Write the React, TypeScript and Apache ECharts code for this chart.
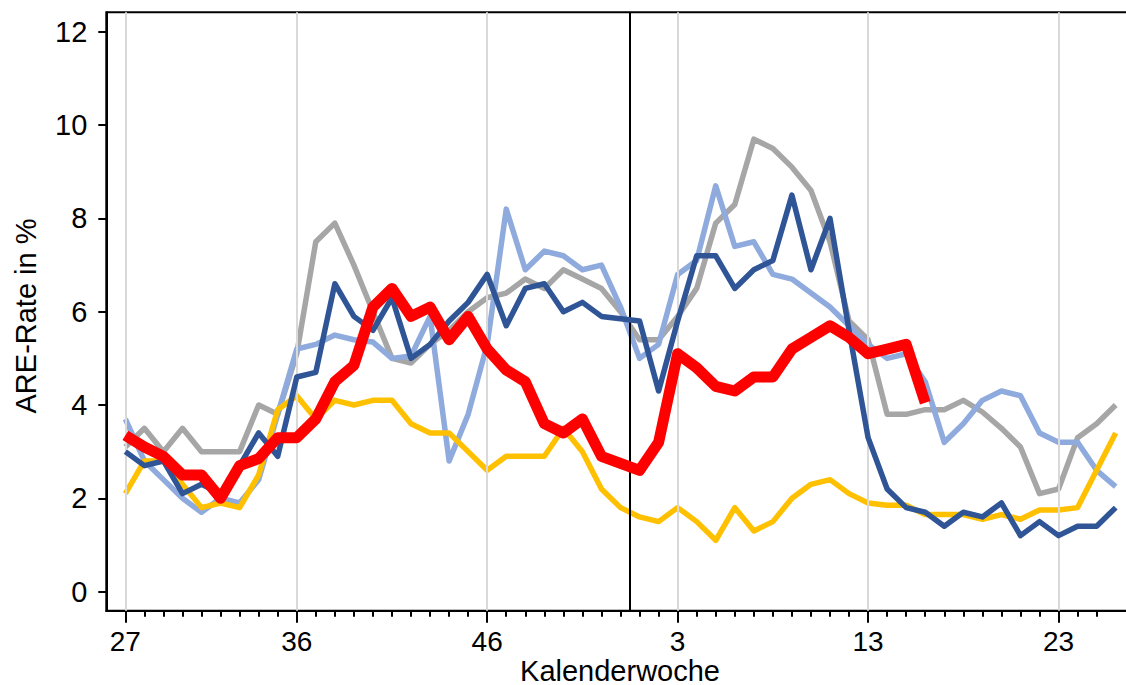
import React, { useEffect, useRef } from "react";
import * as echarts from "echarts";

// Calendar weeks (season 27/2020 .. 26/2021, 53-week year)
const weeks: number[] = [
  27, 28, 29, 30, 31, 32, 33, 34, 35, 36, 37, 38, 39, 40, 41, 42, 43, 44, 45, 46,
  47, 48, 49, 50, 51, 52, 53, 1, 2, 3, 4, 5, 6, 7, 8, 9, 10, 11, 12, 13, 14, 15,
  16, 17, 18, 19, 20, 21, 22, 23, 24, 25, 26,
];
const labelWeekIdx: number[] = [0, 9, 19, 29, 39, 49];
const yTicks: number[] = [0, 2, 4, 6, 8, 10, 12];
const yearBreakIdx = 26.5;

const grayVals: number[] = [
  3.1, 3.5, 3.0, 3.5, 3.0, 3.0, 3.0, 4.0, 3.8, 5.1, 7.5, 7.9, 7.0, 6.0, 5.0, 4.9,
  5.3, 5.6, 6.0, 6.3, 6.4, 6.7, 6.5, 6.9, 6.7, 6.5, 6.0, 5.4, 5.4, 5.9, 6.5, 7.9,
  8.3, 9.7, 9.5, 9.1, 8.6, 7.5, 5.8, 5.4, 3.8, 3.8, 3.9, 3.9, 4.1, 3.85, 3.5, 3.1,
  2.1, 2.2, 3.3, 3.6, 4.0,
];
const lightBlueVals: number[] = [
  3.7, 2.8, 2.4, 2.0, 1.7, 2.0, 1.9, 2.4, 3.8, 5.2, 5.3, 5.5, 5.4, 5.35, 5.0, 5.05,
  5.9, 2.8, 3.8, 5.3, 8.2, 6.9, 7.3, 7.2, 6.9, 7.0, 6.1, 5.0, 5.3, 6.8, 7.1, 8.7,
  7.4, 7.5, 6.8, 6.7, 6.4, 6.1, 5.7, 5.3, 5.0, 5.1, 4.5, 3.2, 3.6, 4.1, 4.3, 4.2,
  3.4, 3.2, 3.2, 2.6, 2.25,
];
const darkBlueVals: number[] = [
  3.0, 2.7, 2.8, 2.1, 2.3, 2.1, 2.7, 3.4, 2.9, 4.6, 4.7, 6.6, 5.9, 5.6, 6.3, 5.0,
  5.3, 5.8, 6.2, 6.8, 5.7, 6.5, 6.6, 6.0, 6.2, 5.9, 5.85, 5.8, 4.3, 5.8, 7.2, 7.2,
  6.5, 6.9, 7.1, 8.5, 6.9, 8.0, 5.6, 3.3, 2.2, 1.8, 1.7, 1.4, 1.7, 1.6, 1.9, 1.2,
  1.5, 1.2, 1.4, 1.4, 1.8,
];
const yellowVals: number[] = [
  2.1, 2.8, 2.8, 2.3, 1.8, 1.9, 1.8, 2.5, 3.9, 4.2, 3.7, 4.1, 4.0, 4.1, 4.1, 3.6,
  3.4, 3.4, 3.0, 2.6, 2.9, 2.9, 2.9, 3.5, 3.0, 2.2, 1.8, 1.6, 1.5, 1.8, 1.5, 1.1,
  1.8, 1.3, 1.5, 2.0, 2.3, 2.4, 2.1, 1.9, 1.85, 1.85, 1.65, 1.65, 1.65, 1.55, 1.65,
  1.55, 1.75, 1.75, 1.8, 2.6, 3.4,
];
const redVals: number[] = [
  3.35, 3.1, 2.9, 2.5, 2.5, 2.0, 2.7, 2.85, 3.3, 3.3, 3.7, 4.5, 4.85, 6.1, 6.5, 5.9,
  6.1, 5.4, 5.9, 5.2, 4.75, 4.5, 3.6, 3.4, 3.7, 2.9, 2.75, 2.6, 3.2, 5.1, 4.8, 4.4,
  4.3, 4.6, 4.6, 5.2, 5.45, 5.7, 5.45, 5.1, 5.2, 5.3, 4.05,
];

const FONT = '"Liberation Sans", Arial, sans-serif';
const FS = 29;
const FS_TICK = 28;

export default function App() {
  const ref = useRef<HTMLDivElement>(null);
  useEffect(() => {
    if (!ref.current) return;
    const chart = echarts.init(ref.current, undefined, { renderer: "svg" });
    const xMin = -1;
    const xMax = 53;
    const pxPerWeek = 19.045;
    const toPairs = (vals: number[]) => vals.map((v, i) => [i, v]);
    const allTicks = weeks.slice(0, 52).map((_, i) => i);
    const mkLine = (name: string, vals: number[], color: string, width: number, z: number) => ({
      name,
      type: "line",
      xAxisIndex: 0,
      yAxisIndex: 0,
      data: toPairs(vals),
      showSymbol: false,
      symbol: "none",
      z,
      lineStyle: { color, width, join: "round", cap: "butt" },
      emphasis: { disabled: true },
    });
    chart.setOption({
      animation: false,
      grid: {
        left: 106.3,
        top: 12.3,
        width: (xMax - xMin) * pxPerWeek,
        height: 598.4,
        outerBoundsMode: "none",
        containLabel: false,
        show: true,
        borderColor: "#000",
        borderWidth: 2,
        backgroundColor: "transparent",
      },
      xAxis: [
        {
          type: "value",
          min: xMin,
          max: xMax,
          position: "bottom",
          axisLine: { show: true, onZero: false, lineStyle: { color: "#000", width: 2 } },
          axisTick: { show: true, customValues: allTicks, length: 6, lineStyle: { color: "#000", width: 2 } },
          axisLabel: { show: false },
          splitLine: { show: false },
        },
        {
          type: "value",
          min: xMin,
          max: xMax,
          position: "bottom",
          axisLine: { show: false, onZero: false },
          axisTick: { show: true, customValues: labelWeekIdx, length: 12, lineStyle: { color: "#000", width: 2 } },
          axisLabel: {
            show: true,
            customValues: labelWeekIdx,
            formatter: (v: number) => String(weeks[Math.round(v)]),
            fontSize: FS_TICK,
            fontFamily: FONT,
            color: "#000",
            margin: 17,
          },
          splitLine: { show: false },
        },
      ],
      yAxis: {
        type: "value",
        min: -0.41,
        max: 12.42,
        axisLine: { show: true, onZero: false, lineStyle: { color: "#000", width: 2 } },
        axisTick: { show: true, customValues: yTicks, length: 8, lineStyle: { color: "#000", width: 2 } },
        axisLabel: {
          show: true,
          customValues: yTicks,
          fontSize: FS,
          fontFamily: FONT,
          color: "#000",
          margin: 19,
        },
        splitLine: { show: false },
      },
      series: [
        {
          type: "line",
          data: [],
          z: 1,
          xAxisIndex: 0,
          markLine: {
            silent: true,
            symbol: ["none", "none"],
            label: { show: false },
            lineStyle: { color: "#D9D9D9", width: 2, type: "solid" },
            emphasis: { disabled: true },
            data: labelWeekIdx.map((i) => ({ xAxis: i })),
          },
        },
        {
          type: "line",
          data: [],
          z: 1,
          xAxisIndex: 0,
          markLine: {
            silent: true,
            symbol: ["none", "none"],
            label: { show: false },
            lineStyle: { color: "#000", width: 2, type: "solid" },
            emphasis: { disabled: true },
            data: [{ xAxis: yearBreakIdx }],
          },
        },
        mkLine("grau", grayVals, "#A6A6A6", 5.5, 2),
        mkLine("hellblau", lightBlueVals, "#8FAADC", 5.5, 3),
        mkLine("gelb", yellowVals, "#FFC000", 5.5, 4),
        mkLine("dunkelblau", darkBlueVals, "#2F5597", 5.5, 5),
        mkLine("rot", redVals, "#FF0000", 11, 6),
      ],
      graphic: [
        {
          type: "text",
          x: 620,
          y: 670.5,
          style: {
            text: "Kalenderwoche",
            fontSize: FS,
            fontFamily: FONT,
            fill: "#000",
            align: "center",
            verticalAlign: "middle",
          },
        },
        {
          type: "text",
          x: 26,
          y: 316,
          rotation: Math.PI / 2,
          style: {
            text: "ARE-Rate in %",
            fontSize: FS,
            fontFamily: FONT,
            fill: "#000",
            align: "center",
            verticalAlign: "middle",
          },
        },
      ],
    });
    return () => chart.dispose();
  }, []);
  return (
    <div
      ref={ref}
      style={{ position: "fixed", left: 0, top: 0, width: 1126, height: 685, background: "#fff" }}
    />
  );
}
